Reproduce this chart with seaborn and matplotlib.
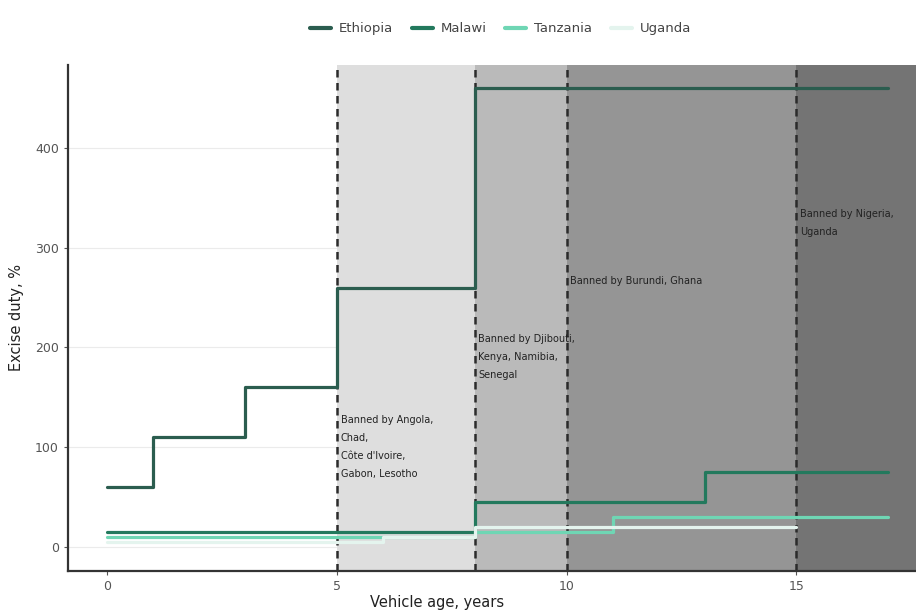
import numpy as np
import pandas as pd
import matplotlib
matplotlib.use('Agg')
import matplotlib.pyplot as plt
import seaborn as sns

# step data (value holds until next age)
countries = ['Ethiopia', 'Malawi', 'Tanzania', 'Uganda']
ethiopia_age = [0, 1, 3, 5, 8, 17]
ethiopia_duty = [60, 110, 160, 260, 460, 460]
malawi_age = [0, 8, 13, 17]
malawi_duty = [15, 45, 75, 75]
tanzania_age = [0, 8, 11, 17]
tanzania_duty = [10, 15, 30, 30]
uganda_age = [0, 6, 8, 15]
uganda_duty = [5, 10, 20, 20]

# ban thresholds and labels
ban_ages = [5, 8, 10, 15]
ban_label_y = [100, 190, 267, 325]
ban_labels = [
    "Banned by Angola,\nChad,\nC\u00f4te d'Ivoire,\nGabon, Lesotho",
    "Banned by Djibouti,\nKenya, Namibia,\nSenegal",
    "Banned by Burundi, Ghana",
    "Banned by Nigeria,\nUganda",
]
band_colors = ['#dedede', '#bababa', '#959595', '#747474']
line_colors = ['#2b5d4f', '#23795d', '#6fd6b4', '#e4f4ee']

frames = []
for name, ages, duty in zip(countries,
                            [ethiopia_age, malawi_age, tanzania_age, uganda_age],
                            [ethiopia_duty, malawi_duty, tanzania_duty, uganda_duty]):
    frames.append(pd.DataFrame({'age': ages, 'duty': duty, 'country': name}))
df = pd.concat(frames, ignore_index=True)

sns.set_style('white')
plt.rcParams['font.family'] = ['DejaVu Sans']

fig = plt.figure(figsize=(9.16, 6.11), dpi=100)
ax = fig.add_axes([0.0742, 0.0655, 0.9258, 0.8281])

xmin, xmax = -0.85, 17.6
edges = ban_ages + [xmax]

# light grid first, shaded bands on top of it
ax.yaxis.grid(True, color='#ebebeb', lw=0.8)
ax.set_axisbelow(True)
for i in range(len(ban_ages)):
    ax.axvspan(edges[i], edges[i + 1], color=band_colors[i], lw=0, zorder=1)

sns.lineplot(data=df, x='age', y='duty', hue='country', hue_order=countries,
             palette=line_colors, estimator=None, drawstyle='steps-post',
             linewidth=2.3, ax=ax, zorder=3)

for age in ban_ages:
    ax.axvline(age, color='#2b2b2b', ls=(0, (3, 2.2)), lw=1.8, zorder=2)

for age, yv, txt in zip(ban_ages, ban_label_y, ban_labels):
    ax.text(age + 0.08, yv, txt, fontsize=7, color='#222222', va='center',
            ha='left', linespacing=2.0, zorder=4)

ax.set_xlim(xmin, xmax)
ax.set_ylim(-24, 483)
ax.set_xticks([0, 5, 10, 15])
ax.set_yticks([0, 100, 200, 300, 400])
ax.tick_params(axis='both', colors='#555555', labelsize=9, length=3,
               direction='out', bottom=True, left=True)
ax.set_xlabel('Vehicle age, years', fontsize=10.5, color='#222222')
ax.set_ylabel('Excise duty, %', fontsize=10.5, color='#222222')
ax.xaxis.set_label_coords(0.435, -0.048)
ax.yaxis.set_label_coords(-0.052, 0.5)

for side in ['top', 'right']:
    ax.spines[side].set_visible(False)
for side in ['left', 'bottom']:
    ax.spines[side].set_color('#333333')
    ax.spines[side].set_linewidth(1.6)

sns.move_legend(ax, 'lower center', bbox_to_anchor=(0.51, 1.035), ncol=4,
                frameon=False, title=None, fontsize=9.5, handlelength=1.6,
                columnspacing=1.4, handletextpad=0.6)
for t in ax.get_legend().get_texts():
    t.set_color('#444444')
for h in ax.get_legend().get_lines():
    h.set_linewidth(3)

fig.savefig('out.png', dpi=100)
